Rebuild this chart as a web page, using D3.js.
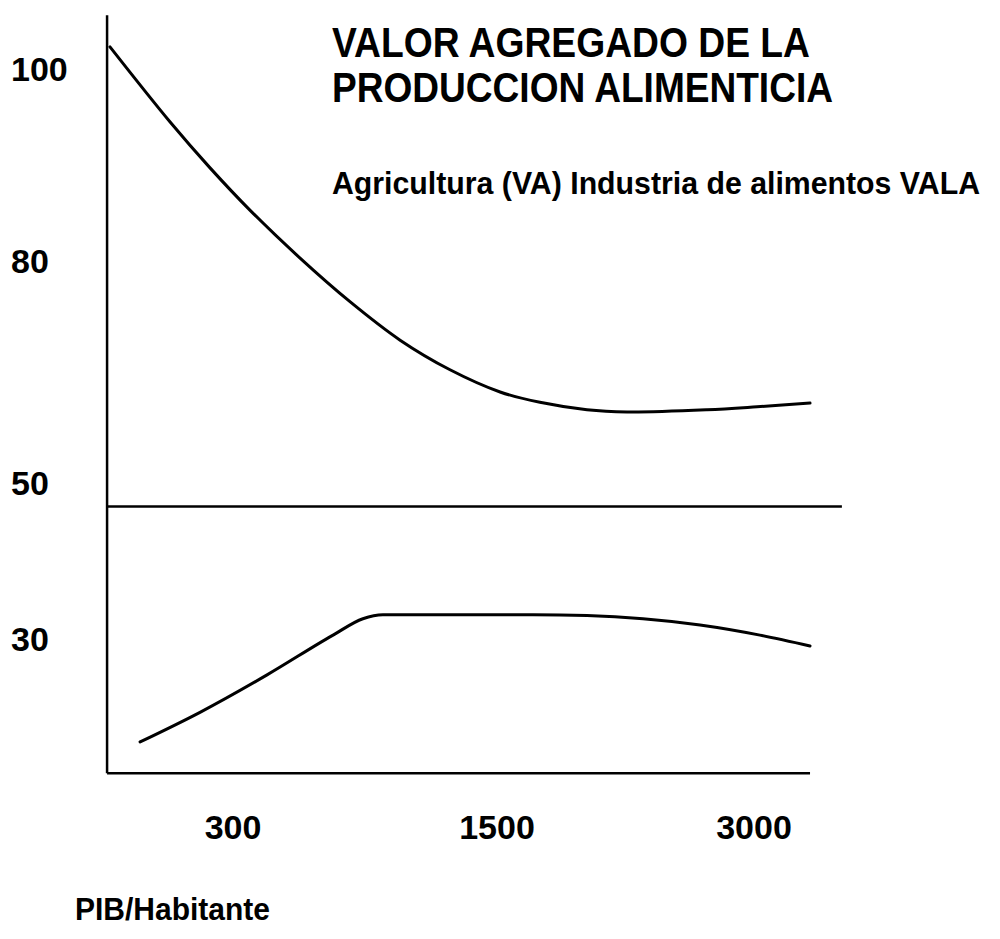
<!DOCTYPE html>
<html>
<head>
<meta charset="utf-8">
<script src="https://cdn.jsdelivr.net/npm/d3@7"></script>
<style>
  body { margin: 0; background: #fff; }
  svg text { font-family: "Liberation Sans", Arial, Helvetica, sans-serif; font-weight: bold; fill: #000; }
</style>
</head>
<body>
<svg id="chart" width="1000" height="939"></svg>
<script>

// PIB/Habitante ticks, the curve x values are in tick-index units (0 = 300, 1 = 1500, 2 = 3000)
var xTickLabels = ["300", "1500", "3000"];
var yTickValues = [30, 50, 80, 100];

var agriculturaX = [-0.466, -0.239, -0.087, 0.064, 0.254, 0.443, 0.633, 0.822, 1.012, 1.167, 1.350, 1.506, 1.817, 2.012, 2.218];
var agriculturaVA = [102.3, 94.5, 89.7, 85.3, 80.3, 74.5, 69.3, 65.3, 62.3, 60.9, 59.9, 59.6, 59.9, 60.3, 60.8];

var industriaX = [-0.352, -0.125, 0.129, 0.379, 0.492, 0.568, 1.140, 1.350, 1.568, 1.790, 2.023, 2.218];
var industriaVALA = [16.8, 20.6, 25.4, 30.5, 32.6, 33.1, 33.1, 33.0, 32.6, 31.8, 30.5, 29.1];

var referenceLevel = 47;
var xExtent = [-0.477, 2.218];
var yExtent = [12.8, 105.6];
var referenceEnd = 2.342;

var svg = d3.select("#chart");

// the printed axis is not evenly spaced, so both scales are piecewise
var x = d3.scaleLinear().domain([0, 1, 2]).range([233, 497, 754]);
var y = d3.scaleLinear().domain(yTickValues).range([639, 483, 261, 69]);

//****************************AXES***************************************************

var axisG = svg.append("g").attr("class", "axes");

axisG.append("line")
    .attr("x1", x(xExtent[0])).attr("x2", x(xExtent[0]))
    .attr("y1", y(yExtent[0])).attr("y2", y(yExtent[1]))
    .attr("stroke", "#000").attr("stroke-width", 2.5);

axisG.append("line")
    .attr("x1", x(xExtent[0])).attr("x2", x(xExtent[1]))
    .attr("y1", y(yExtent[0])).attr("y2", y(yExtent[0]))
    .attr("stroke", "#000").attr("stroke-width", 2.5);

axisG.append("line")
    .attr("x1", x(xExtent[0])).attr("x2", x(referenceEnd))
    .attr("y1", y(referenceLevel)).attr("y2", y(referenceLevel))
    .attr("stroke", "#000").attr("stroke-width", 2.5);

axisG.selectAll("text.ytick")
    .data(yTickValues)
    .enter()
    .append("text")
    .attr("class", "ytick")
    .attr("x", 11)
    .attr("y", function(d) { return y(d) + 12; })
    .style("font-size", "34px")
    .text(function(d) { return d; });

axisG.selectAll("text.xtick")
    .data(xTickLabels)
    .enter()
    .append("text")
    .attr("class", "xtick")
    .attr("x", function(d, i) { return x(i); })
    .attr("y", 839)
    .attr("text-anchor", "middle")
    .style("font-size", "34px")
    .text(function(d) { return d; });

svg.append("text")
    .attr("x", 75)
    .attr("y", 920)
    .attr("textLength", 195)
    .attr("lengthAdjust", "spacingAndGlyphs")
    .style("font-size", "31px")
    .text("PIB/Habitante");

//****************************CURVES***************************************************

var series = [
    {pts: d3.zip(agriculturaX, agriculturaVA), curve: d3.curveCatmullRom.alpha(0.5)},
    {pts: d3.zip(industriaX, industriaVALA), curve: d3.curveMonotoneX}
];

svg.append("g").selectAll("path")
    .data(series)
    .enter()
    .append("path")
    .attr("d", function(s) {
        return d3.line()
            .x(function(d) { return x(d[0]); })
            .y(function(d) { return y(d[1]); })
            .curve(s.curve)(s.pts);
    })
    .attr("fill", "none")
    .attr("stroke", "#000")
    .attr("stroke-width", 3)
    .attr("stroke-linecap", "round");

//****************************TITLES***************************************************

var titles = [
    {text: "VALOR AGREGADO DE LA", y: 57, size: 42, len: 478},
    {text: "PRODUCCION ALIMENTICIA", y: 102, size: 42, len: 501},
    {text: "Agricultura (VA) Industria de alimentos VALA", y: 194, size: 31, len: 648}
];

svg.selectAll("text.title")
    .data(titles)
    .enter()
    .append("text")
    .attr("class", "title")
    .attr("x", 332)
    .attr("y", function(d) { return d.y; })
    .attr("textLength", function(d) { return d.len; })
    .attr("lengthAdjust", "spacingAndGlyphs")
    .style("font-size", function(d) { return d.size + "px"; })
    .text(function(d) { return d.text; })
    .append("title")
    .text(function(d) { return d.text; });

</script>
</body>
</html>
